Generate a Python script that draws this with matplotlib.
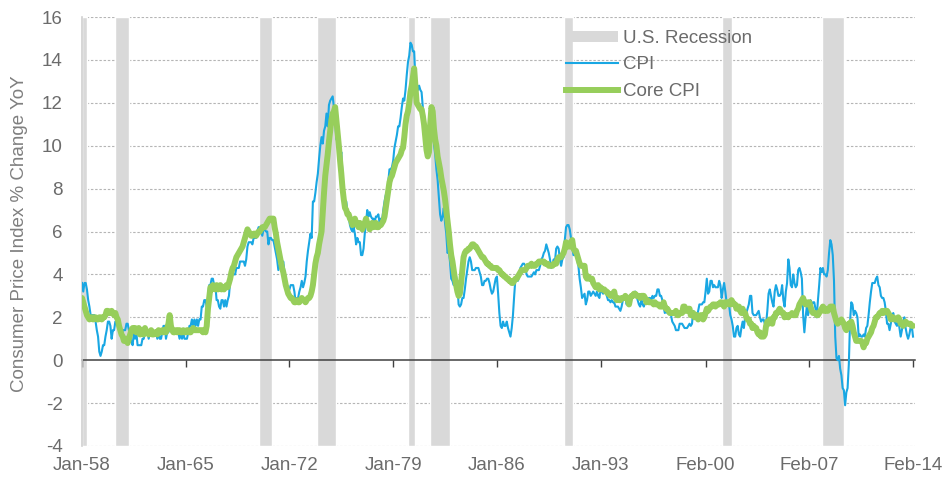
import numpy as np
import matplotlib
matplotlib.use("Agg")
import matplotlib.pyplot as plt
from matplotlib.patches import Patch
from matplotlib.lines import Line2D

plt.rcParams['font.family'] = ['Liberation Sans', 'DejaVu Sans']

# Monthly YoY % change, Jan-1958 .. Feb-2014 (one row per year)
cpi_yoy = [
    3.6, 3.2, 3.6, 3.6, 3.3, 2.8, 2.5, 2.1, 2.1, 2.1, 2.1, 1.8,   # 1958
    1.4, 1.1, 0.4, 0.2, 0.4, 0.7, 0.7, 1.1, 1.4, 1.8, 1.8, 1.6,   # 1959
    1.0, 1.4, 1.4, 1.8, 1.8, 1.8, 1.4, 1.4, 1.1, 1.4, 1.4, 1.4,   # 1960
    1.7, 1.7, 1.4, 1.0, 0.9, 0.7, 1.3, 1.0, 1.3, 0.7, 0.7, 0.7,   # 1961
    0.7, 1.0, 1.0, 1.3, 1.3, 1.3, 1.0, 1.3, 1.3, 1.3, 1.3, 1.3,   # 1962
    1.3, 1.0, 1.3, 1.0, 1.0, 1.3, 1.6, 1.6, 1.0, 1.3, 1.3, 1.6,   # 1963
    1.6, 1.6, 1.3, 1.3, 1.3, 1.3, 1.3, 1.0, 1.3, 1.0, 1.3, 1.0,   # 1964
    1.0, 1.0, 1.3, 1.6, 1.6, 1.9, 1.6, 1.9, 1.6, 1.9, 1.6, 1.9,   # 1965
    1.9, 2.5, 2.5, 2.8, 2.8, 2.5, 2.8, 3.5, 3.5, 3.8, 3.8, 3.5,   # 1966
    3.5, 2.8, 2.8, 2.5, 2.4, 2.8, 2.8, 2.5, 2.8, 2.5, 2.8, 3.0,   # 1967
    3.7, 4.0, 4.0, 4.0, 4.0, 4.3, 4.3, 4.3, 4.6, 4.6, 4.6, 4.6,   # 1968
    4.4, 4.7, 5.3, 5.5, 5.5, 5.5, 5.4, 5.7, 5.7, 5.7, 6.0, 6.2,   # 1969
    6.2, 6.1, 5.8, 6.1, 6.1, 6.0, 6.0, 5.4, 5.7, 5.7, 5.6, 5.6,   # 1970
    5.3, 5.0, 4.7, 4.2, 4.4, 4.6, 4.4, 4.6, 4.1, 3.8, 3.3, 3.3,   # 1971
    3.3, 3.5, 3.5, 3.5, 3.2, 2.7, 2.9, 2.9, 3.2, 3.4, 3.7, 3.4,   # 1972
    3.6, 3.9, 4.6, 5.1, 5.5, 5.9, 5.7, 7.4, 7.4, 7.8, 8.3, 8.7,   # 1973
    9.4, 10.0, 10.4, 10.1, 10.7, 10.9, 11.5, 10.9, 11.9, 12.1, 12.2, 12.3,  # 1974
    11.8, 11.2, 10.3, 10.2, 9.5, 9.3, 9.7, 8.6, 7.9, 7.4, 7.4, 6.9,  # 1975
    6.7, 6.3, 6.1, 6.0, 6.2, 5.9, 5.4, 5.7, 5.5, 5.5, 4.9, 4.9,   # 1976
    5.2, 5.9, 6.4, 7.0, 6.7, 6.9, 6.7, 6.6, 6.6, 6.4, 6.7, 6.7,   # 1977
    6.8, 6.4, 6.6, 6.5, 7.0, 7.4, 7.7, 7.8, 8.3, 8.9, 8.9, 9.0,   # 1978
    9.3, 9.9, 10.2, 10.5, 10.9, 10.9, 11.3, 11.8, 12.2, 12.1, 12.6, 13.3,  # 1979
    13.9, 14.2, 14.8, 14.7, 14.4, 14.4, 13.1, 12.9, 12.6, 12.8, 12.6, 12.5,  # 1980
    11.8, 11.4, 10.5, 10.0, 9.8, 9.6, 10.8, 10.8, 11.0, 10.1, 9.6, 8.9,  # 1981
    8.4, 7.6, 6.8, 6.5, 6.7, 7.1, 6.4, 5.9, 5.0, 5.1, 4.6, 3.8,   # 1982
    3.7, 3.5, 3.6, 3.9, 3.5, 2.6, 2.5, 2.6, 2.9, 2.9, 3.3, 3.8,   # 1983
    4.2, 4.6, 4.8, 4.6, 4.2, 4.2, 4.2, 4.3, 4.3, 4.3, 4.1, 3.9,   # 1984
    3.5, 3.5, 3.7, 3.7, 3.8, 3.8, 3.6, 3.3, 3.1, 3.2, 3.5, 3.8,   # 1985
    3.9, 3.1, 2.2, 1.6, 1.5, 1.8, 1.6, 1.6, 1.8, 1.5, 1.3, 1.1,   # 1986
    1.5, 2.1, 3.0, 3.8, 3.9, 3.7, 3.9, 4.3, 4.4, 4.5, 4.5, 4.4,   # 1987
    4.0, 3.9, 3.9, 3.9, 3.9, 4.0, 4.1, 4.0, 4.2, 4.2, 4.2, 4.4,   # 1988
    4.7, 4.8, 5.0, 5.1, 5.4, 5.2, 5.0, 4.7, 4.3, 4.5, 4.7, 4.6,   # 1989
    5.2, 5.3, 5.2, 4.7, 4.4, 4.7, 4.8, 5.6, 6.2, 6.3, 6.3, 6.1,   # 1990
    5.7, 5.3, 4.9, 4.9, 5.0, 4.7, 4.4, 3.8, 3.4, 2.9, 3.0, 3.1,   # 1991
    2.6, 2.8, 3.2, 3.2, 3.0, 3.1, 3.2, 3.1, 3.0, 3.2, 3.0, 2.9,   # 1992
    3.3, 3.2, 3.1, 3.2, 3.2, 3.0, 2.8, 2.8, 2.7, 2.8, 2.7, 2.7,   # 1993
    2.5, 2.5, 2.5, 2.4, 2.3, 2.5, 2.8, 2.9, 3.0, 2.6, 2.7, 2.7,   # 1994
    2.8, 2.9, 2.9, 3.1, 3.2, 3.0, 2.8, 2.6, 2.5, 2.8, 2.6, 2.5,   # 1995
    2.7, 2.7, 2.8, 2.9, 2.9, 2.8, 3.0, 2.9, 3.0, 3.0, 3.3, 3.3,   # 1996
    3.0, 3.0, 2.8, 2.5, 2.2, 2.3, 2.2, 2.2, 2.2, 2.1, 1.8, 1.7,   # 1997
    1.6, 1.4, 1.4, 1.4, 1.7, 1.7, 1.7, 1.6, 1.5, 1.5, 1.5, 1.6,   # 1998
    1.7, 1.6, 1.7, 2.3, 2.1, 2.0, 2.1, 2.3, 2.6, 2.6, 2.6, 2.7,   # 1999
    2.7, 3.2, 3.8, 3.1, 3.2, 3.7, 3.7, 3.4, 3.5, 3.4, 3.4, 3.4,   # 2000
    3.7, 3.5, 2.9, 3.3, 3.6, 3.2, 2.7, 2.7, 2.6, 2.1, 1.9, 1.6,   # 2001
    1.1, 1.1, 1.5, 1.6, 1.2, 1.1, 1.5, 1.8, 1.5, 2.0, 2.2, 2.4,   # 2002
    2.6, 3.0, 3.0, 2.2, 2.1, 2.1, 2.1, 2.2, 2.3, 2.0, 1.8, 1.9,   # 2003
    1.9, 1.7, 1.7, 2.3, 3.1, 3.3, 3.0, 2.7, 2.5, 3.2, 3.5, 3.3,   # 2004
    3.0, 3.0, 3.1, 3.5, 2.8, 2.5, 3.2, 3.6, 4.7, 4.3, 3.5, 3.4,   # 2005
    4.0, 3.6, 3.4, 3.5, 4.2, 4.3, 4.1, 3.8, 2.1, 1.3, 2.0, 2.5,   # 2006
    2.1, 2.4, 2.8, 2.6, 2.7, 2.7, 2.4, 2.0, 2.8, 3.5, 4.3, 4.1,   # 2007
    4.3, 4.0, 4.0, 3.9, 4.2, 5.0, 5.6, 5.4, 4.9, 3.7, 1.1, 0.1,   # 2008
    0.0, 0.2, -0.4, -0.7, -1.3, -1.4, -2.1, -1.5, -1.3, -0.2, 1.8, 2.7,  # 2009
    2.6, 2.1, 2.3, 2.2, 2.0, 1.1, 1.2, 1.1, 1.1, 1.2, 1.1, 1.5,   # 2010
    1.6, 2.1, 2.7, 3.2, 3.6, 3.6, 3.6, 3.8, 3.9, 3.5, 3.4, 3.0,   # 2011
    2.9, 2.9, 2.7, 2.3, 1.7, 1.7, 1.4, 1.7, 2.0, 2.2, 1.8, 1.7,   # 2012
    1.6, 2.0, 1.5, 1.1, 1.4, 1.8, 2.0, 1.5, 1.2, 1.0, 1.2, 1.5,   # 2013
    1.6, 1.1,                                                     # 2014
]

core_cpi_yoy = [
    2.9, 2.7, 2.5, 2.3, 2.1, 2.0, 1.9, 2.0, 2.0, 1.9, 2.0, 2.0,   # 1958
    1.9, 1.9, 2.0, 2.0, 1.9, 2.0, 2.0, 2.1, 2.3, 2.3, 2.2, 2.2,   # 1959
    2.3, 2.2, 2.1, 2.2, 2.0, 1.9, 1.6, 1.4, 1.2, 1.1, 0.9, 0.9,   # 1960
    1.0, 0.8, 1.0, 1.2, 1.4, 1.5, 1.4, 1.5, 1.3, 1.4, 1.5, 1.2,   # 1961
    1.3, 1.4, 1.2, 1.5, 1.3, 1.3, 1.2, 1.3, 1.4, 1.2, 1.2, 1.3,   # 1962
    1.3, 1.2, 1.4, 1.3, 1.3, 1.4, 1.3, 1.4, 1.3, 1.5, 1.7, 2.1,   # 1963
    1.6, 1.4, 1.3, 1.3, 1.4, 1.3, 1.4, 1.4, 1.3, 1.3, 1.4, 1.3,   # 1964
    1.3, 1.4, 1.4, 1.3, 1.3, 1.4, 1.5, 1.4, 1.4, 1.4, 1.4, 1.4,   # 1965
    1.4, 1.4, 1.3, 1.4, 1.3, 1.6, 2.4, 2.9, 3.4, 3.3, 3.5, 3.4,   # 1966
    3.3, 3.5, 3.3, 3.4, 3.5, 3.3, 3.4, 3.3, 3.4, 3.5, 3.4, 3.6,   # 1967
    3.8, 4.1, 4.3, 4.4, 4.6, 4.8, 4.9, 5.0, 5.1, 5.2, 5.3, 5.5,   # 1968
    5.7, 5.9, 6.1, 6.0, 5.9, 5.8, 5.8, 5.9, 5.9, 5.8, 5.9, 6.0,   # 1969
    6.0, 6.1, 6.2, 6.2, 6.2, 6.3, 6.4, 6.5, 6.6, 6.6, 6.6, 6.6,   # 1970
    6.2, 5.9, 5.5, 5.2, 4.9, 4.6, 4.3, 4.1, 3.8, 3.5, 3.3, 3.1,   # 1971
    3.0, 2.9, 2.9, 2.8, 2.7, 2.7, 2.8, 2.7, 2.7, 2.8, 2.9, 2.8,   # 1972
    2.8, 2.7, 2.8, 2.9, 2.9, 3.0, 3.2, 3.5, 4.0, 4.5, 4.8, 5.0,   # 1973
    5.4, 5.7, 6.0, 6.9, 7.8, 8.6, 9.1, 9.6, 10.2, 10.7, 11.2, 11.5,  # 1974
    11.6, 11.8, 11.2, 10.6, 10.0, 9.3, 8.7, 8.0, 7.5, 7.1, 7.0, 6.8,  # 1975
    6.8, 6.6, 6.5, 6.3, 6.4, 6.6, 6.4, 6.3, 6.2, 6.4, 6.2, 6.1,   # 1976
    6.3, 6.4, 6.6, 6.4, 6.3, 6.1, 6.2, 6.4, 6.2, 6.3, 6.4, 6.2,   # 1977
    6.2, 6.3, 6.3, 6.4, 6.5, 6.7, 7.1, 7.5, 7.9, 8.3, 8.5, 8.6,   # 1978
    8.8, 9.0, 9.2, 9.3, 9.4, 9.5, 9.6, 9.8, 9.9, 10.4, 11.0, 11.4,  # 1979
    11.6, 12.0, 12.5, 12.8, 13.2, 13.6, 12.8, 12.0, 11.9, 11.8, 11.7, 11.7,  # 1980
    11.4, 11.0, 10.4, 9.8, 9.5, 9.7, 11.0, 11.8, 11.6, 10.8, 10.3, 10.0,  # 1981
    9.5, 9.2, 8.9, 8.5, 8.2, 7.9, 7.5, 7.0, 6.5, 6.0, 5.4, 4.9,   # 1982
    4.6, 4.2, 3.8, 3.5, 3.2, 3.0, 3.1, 3.6, 4.2, 4.8, 5.0, 5.1,   # 1983
    5.1, 5.2, 5.2, 5.3, 5.4, 5.4, 5.3, 5.3, 5.2, 5.1, 5.0, 4.9,   # 1984
    4.8, 4.8, 4.7, 4.6, 4.5, 4.5, 4.4, 4.4, 4.3, 4.3, 4.3, 4.3,   # 1985
    4.3, 4.2, 4.2, 4.1, 4.0, 4.0, 3.9, 3.9, 3.8, 3.8, 3.7, 3.7,   # 1986
    3.6, 3.6, 3.7, 3.8, 3.8, 3.9, 4.0, 4.1, 4.2, 4.2, 4.2, 4.2,   # 1987
    4.3, 4.4, 4.4, 4.4, 4.5, 4.4, 4.4, 4.4, 4.5, 4.5, 4.6, 4.6,   # 1988
    4.6, 4.6, 4.6, 4.5, 4.5, 4.5, 4.4, 4.4, 4.4, 4.4, 4.5, 4.5,   # 1989
    4.5, 4.7, 4.8, 4.8, 4.8, 4.9, 5.0, 5.2, 5.5, 5.3, 5.3, 5.3,   # 1990
    5.5, 5.6, 5.2, 5.1, 5.1, 4.9, 4.7, 4.5, 4.4, 4.4, 4.4, 4.4,   # 1991
    3.9, 3.8, 3.9, 3.8, 3.8, 3.8, 3.6, 3.5, 3.4, 3.4, 3.5, 3.3,   # 1992
    3.4, 3.3, 3.3, 3.3, 3.2, 3.2, 3.1, 3.1, 3.0, 3.0, 3.1, 3.2,   # 1993
    2.9, 2.8, 2.9, 2.8, 2.8, 2.9, 2.9, 2.9, 3.0, 2.9, 2.8, 2.6,   # 1994
    2.9, 3.0, 3.0, 3.1, 3.1, 3.0, 3.0, 3.0, 2.9, 3.0, 3.0, 3.0,   # 1995
    2.9, 2.7, 2.8, 2.7, 2.7, 2.7, 2.7, 2.6, 2.7, 2.6, 2.6, 2.6,   # 1996
    2.5, 2.5, 2.5, 2.7, 2.5, 2.4, 2.4, 2.3, 2.2, 2.2, 2.2, 2.2,   # 1997
    2.2, 2.3, 2.1, 2.1, 2.2, 2.2, 2.2, 2.5, 2.5, 2.3, 2.3, 2.4,   # 1998
    2.4, 2.1, 2.1, 2.2, 2.0, 2.1, 2.1, 1.9, 2.0, 2.1, 2.1, 1.9,   # 1999
    2.0, 2.2, 2.4, 2.3, 2.4, 2.5, 2.5, 2.6, 2.6, 2.5, 2.6, 2.6,   # 2000
    2.6, 2.7, 2.7, 2.6, 2.5, 2.7, 2.7, 2.7, 2.6, 2.6, 2.8, 2.7,   # 2001
    2.6, 2.6, 2.4, 2.5, 2.5, 2.3, 2.2, 2.4, 2.2, 2.2, 2.0, 1.9,   # 2002
    1.9, 1.7, 1.7, 1.5, 1.6, 1.5, 1.5, 1.3, 1.2, 1.3, 1.1, 1.1,   # 2003
    1.1, 1.2, 1.6, 1.8, 1.7, 1.9, 1.8, 1.7, 2.0, 2.0, 2.2, 2.2,   # 2004
    2.3, 2.4, 2.3, 2.2, 2.2, 2.0, 2.1, 2.1, 2.0, 2.1, 2.1, 2.2,   # 2005
    2.1, 2.1, 2.1, 2.3, 2.4, 2.6, 2.7, 2.8, 2.9, 2.7, 2.6, 2.6,   # 2006
    2.7, 2.7, 2.5, 2.3, 2.2, 2.2, 2.2, 2.1, 2.1, 2.2, 2.3, 2.4,   # 2007
    2.5, 2.3, 2.4, 2.3, 2.3, 2.4, 2.5, 2.5, 2.5, 2.2, 2.0, 1.8,   # 2008
    1.7, 1.8, 1.8, 1.9, 1.8, 1.7, 1.5, 1.4, 1.5, 1.7, 1.7, 1.8,   # 2009
    1.6, 1.3, 1.1, 0.9, 0.9, 0.9, 0.9, 0.9, 0.8, 0.6, 0.8, 0.8,   # 2010
    1.0, 1.1, 1.2, 1.3, 1.5, 1.6, 1.8, 2.0, 2.0, 2.1, 2.2, 2.2,   # 2011
    2.3, 2.2, 2.3, 2.3, 2.3, 2.2, 2.1, 1.9, 2.0, 2.0, 1.9, 1.9,   # 2012
    1.9, 2.0, 1.9, 1.7, 1.7, 1.6, 1.7, 1.8, 1.7, 1.7, 1.7, 1.7,   # 2013
    1.6, 1.6,                                                     # 2014
]

# U.S. recessions as month offsets from Jan-1958 (start, end)
recession_start = [0, 27, 143, 190, 264, 282, 390, 518, 599]
recession_end = [4, 38, 154, 206, 270, 298, 398, 526, 617]

tick_months = [0, 84, 168, 252, 336, 420, 505, 589, 673]
tick_labels = ["Jan-58", "Jan-65", "Jan-72", "Jan-79", "Jan-86",
               "Jan-93", "Feb-00", "Feb-07", "Feb-14"]
y_ticks = [-4, -2, 0, 2, 4, 6, 8, 10, 12, 14, 16]

W, H = 945, 478
fig = plt.figure(figsize=(W / 100, H / 100), dpi=100)
ax = fig.add_axes([82 / W, 1 - 446 / H, (915 - 82) / W, (446 - 17) / H])

months = np.arange(len(cpi_yoy))
text_color = '#6b6b6b'
fs = 13.5

# recession bars
for s, e in zip(recession_start, recession_end):
    ax.axvspan(s, e, facecolor='#d9d9d9', edgecolor='white', lw=1.0, zorder=1)

# grid
for yv in y_ticks:
    if yv != 0:
        ax.axhline(yv, color='#b5b5b5', lw=0.8, ls=(0, (2.2, 1.6)), zorder=0.5)

ax.plot(months, cpi_yoy, color='#19A7E3', lw=1.5, zorder=3, solid_joinstyle='round')
ax.plot(months, core_cpi_yoy, color='#97CE5B', lw=4.3, zorder=4,
        solid_joinstyle='round', solid_capstyle='round')

ax.set_xlim(0, 674.6)
ax.set_ylim(-4, 16)

# zero axis line with tick marks
for sp in ['top', 'right']:
    ax.spines[sp].set_visible(False)
ax.spines['left'].set_color('#d0d0d0')
ax.spines['left'].set_linewidth(1.2)
ax.spines['bottom'].set_position(('data', 0))
ax.spines['bottom'].set_color('#404040')
ax.spines['bottom'].set_linewidth(1.1)
ax.spines['bottom'].set_zorder(2)
ax.set_xticks(tick_months)
ax.tick_params(axis='x', direction='out', length=5, width=1.0, color='#404040',
               labelbottom=False)

sec = ax.secondary_xaxis(0.0)
sec.set_xticks(tick_months)
sec.set_xticklabels(tick_labels)
sec.spines['bottom'].set_visible(False)
sec.tick_params(axis='x', length=0, pad=8, labelsize=fs, labelcolor=text_color)

ax.set_yticks(y_ticks)
ax.set_yticklabels([str(v) for v in y_ticks])
ax.tick_params(axis='y', length=0, pad=14, labelsize=fs, labelcolor=text_color)

fig.text(20 / W, 1 - 234 / H, 'Consumer Price Index % Change YoY', rotation=90,
         ha='center', va='center', fontsize=fs, color='#7f7f7f')

handles = [Patch(facecolor='#d9d9d9', edgecolor='none'),
           Line2D([0], [0], color='#19A7E3', lw=1.5),
           Line2D([0], [0], color='#97CE5B', lw=4.3)]
leg = fig.legend(handles, ['U.S. Recession', 'CPI', 'Core CPI'],
                 loc='upper left', bbox_to_anchor=(566 / W, 1 - 30 / H),
                 frameon=False, fontsize=fs, labelcolor=text_color,
                 handlelength=2.75, handleheight=0.5, handletextpad=0.3,
                 labelspacing=0.5, borderpad=0, borderaxespad=0)

fig.savefig('out.png', dpi=100, facecolor='white')
